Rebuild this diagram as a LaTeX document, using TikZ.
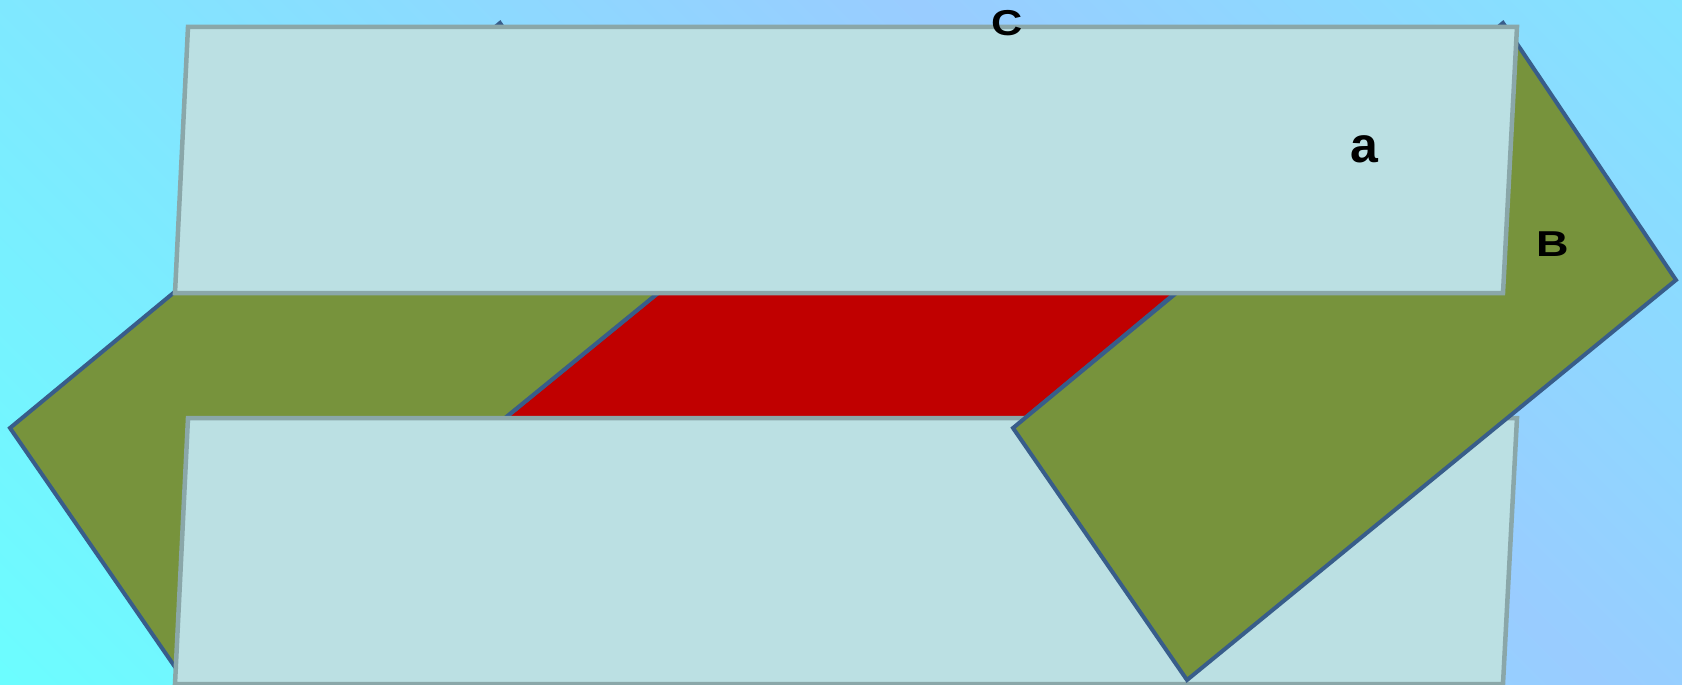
\documentclass[tikz,border=0pt]{standalone}
\usepackage{fontspec}
\setmainfont{Liberation Sans}
\usepackage{graphicx}
\definecolor{skycyan}{HTML}{6CFDFF}
\definecolor{skyblue}{HTML}{99CCFF}
\definecolor{panelfill}{HTML}{BBE0E3}
\definecolor{paneldraw}{HTML}{8AA7A9}
\definecolor{leafgreen}{HTML}{77933C}
\definecolor{edgeblue}{HTML}{385D8A}
\definecolor{bandred}{HTML}{C00000}
\usetikzlibrary{calc}
\pgfdeclarehorizontalshading{skyshade}{100bp}{color(0bp)=(skycyan); color(32.6bp)=(skycyan); color(56.1bp)=(skyblue); color(79.6bp)=(skycyan); color(100bp)=(skycyan)}
\tikzset{
  panel/.style={
    draw=paneldraw, fill=panelfill, line width=4.5pt
  },
  chevron/.style={
    draw=edgeblue, fill=#1, line width=4pt
  },
  chevron/.default=leafgreen,
  lbl/.style={inner sep=0pt, text=black},
}

\begin{document}
\begin{tikzpicture}[x=1pt, y=-1pt]
    \useasboundingbox (0,0) rectangle (1682,685);
    \begin{scope}
      \clip (0,0) rectangle (1682,685);
      \shade[shading=skyshade, shading angle=45] (-359,-857.5) rectangle (2041,1542.5);
    \end{scope}

    % red band behind the two chevrons
    \draw[chevron=bandred] (493,428) -- (1013,428) -- (1191,280) -- (674,280) -- cycle;

    \draw[chevron] (10,428) -- (500,23) -- (674,280) -- (184,680) -- cycle;
    \draw[panel] (188,418) -- (1517,418) -- (1503,684) -- (175,684) -- cycle;
    \draw[chevron] (1013,428) -- (1503,23) -- (1676,280) -- (1187,680) -- cycle;
    \draw[panel] (188,27) -- (1517,27) -- (1503,293) -- (175,293) -- cycle;

    \node[lbl, font=\bfseries\fontsize{36}{40}\selectfont] (labelc) at (1007,23) {\scalebox{1.2}[1]{C}};
    \node[lbl, font=\bfseries\fontsize{50}{56}\selectfont] (labela) at (1364.5,149) {a};
    \node[lbl, font=\bfseries\fontsize{36}{40}\selectfont] (labelb) at (1553,244.5) {\scalebox{1.25}[1]{B}};
  \end{tikzpicture}
\end{document}
